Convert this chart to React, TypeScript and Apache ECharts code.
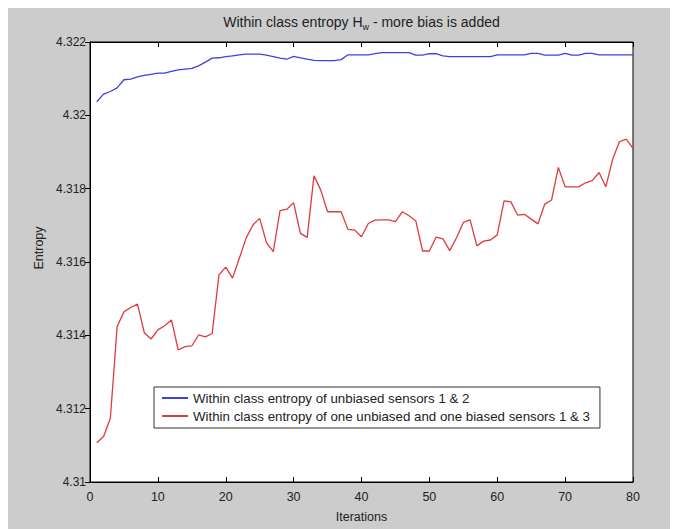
import React, { useEffect, useRef } from "react";
import * as echarts from "echarts";

const titleMain = "Within class entropy H";
const titleSub = "w";
const titleRest = " - more bias is added";
const xName = "Iterations";
const yName = "Entropy";
const seriesNames = [
  "Within class entropy of unbiased sensors 1 & 2",
  "Within class entropy of one unbiased and one biased sensors 1 & 3",
];

// iteration numbers 1..80
const iterations: number[] = [];
for (let i = 1; i <= 80; i++) iterations.push(i);

const unbiased = [
  4.32037, 4.32058, 4.32065, 4.32075, 4.32097, 4.32099, 4.32105, 4.32109, 4.32112, 4.32115,
  4.32115, 4.3212, 4.32124, 4.32126, 4.32128, 4.32135, 4.32145, 4.32156, 4.32157, 4.3216,
  4.32162, 4.32165, 4.32167, 4.32167, 4.32167, 4.32164, 4.3216, 4.32156, 4.32153, 4.32161,
  4.32157, 4.32153, 4.3215, 4.32149, 4.32149, 4.32149, 4.32152, 4.32165, 4.32165, 4.32165,
  4.32165, 4.32168, 4.32171, 4.32171, 4.32171, 4.32171, 4.32171, 4.32164, 4.32164, 4.32168,
  4.32168, 4.32162, 4.3216, 4.3216, 4.3216, 4.3216, 4.3216, 4.3216, 4.3216, 4.32165,
  4.32165, 4.32165, 4.32165, 4.32165, 4.32169, 4.32169, 4.32164, 4.32164, 4.32164, 4.32169,
  4.32164, 4.32164, 4.32169, 4.32169, 4.32165, 4.32165, 4.32165, 4.32165, 4.32165, 4.32165,
];

const biased = [
  4.31107, 4.31124, 4.31174, 4.31424, 4.31464, 4.31476, 4.31485, 4.31407, 4.3139, 4.31415,
  4.31426, 4.31442, 4.3136, 4.31369, 4.31371, 4.31401, 4.31396, 4.31405, 4.31565, 4.31586,
  4.31556, 4.3161, 4.31665, 4.31701, 4.31719, 4.31653, 4.31628, 4.3174, 4.31744, 4.31762,
  4.31678, 4.31667, 4.31835, 4.31796, 4.31737, 4.31737, 4.31737, 4.31689, 4.31687, 4.31669,
  4.31705, 4.31714, 4.31715, 4.31715, 4.3171, 4.31737, 4.31726, 4.31712, 4.3163, 4.3163,
  4.31668, 4.31663, 4.31631, 4.31666, 4.31708, 4.31715, 4.31644, 4.31657, 4.3166, 4.31674,
  4.31767, 4.31764, 4.31728, 4.3173, 4.31717, 4.31704, 4.31758, 4.31769, 4.31858, 4.31805,
  4.31805, 4.31805, 4.31816, 4.31822, 4.31844, 4.31805, 4.3188, 4.31928, 4.31935, 4.3191,
];

const yMin = 4.31;
const yMax = 4.322;
const yStep = 0.002;
const xMin = 0;
const xMax = 80;
const xStep = 10;

const FONT = "Liberation Sans, Arial, sans-serif";

export default function App() {
  const ref = useRef<HTMLDivElement>(null);
  useEffect(() => {
    if (!ref.current) return;
    const chart = echarts.init(ref.current, undefined, { renderer: "svg" });
    const axisCommon = {
      axisLine: { show: true, lineStyle: { color: "#000", width: 1 } },
      splitLine: { show: false },
    };
    chart.setOption({
      animation: false,
      backgroundColor: "#cccccc",
      textStyle: { fontFamily: FONT },
      grid: {
        left: 82,
        right: 45,
        top: 34,
        bottom: 47,
        show: true,
        backgroundColor: "#ffffff",
        borderColor: "#000",
        borderWidth: 1,
      },
      graphic: [
        {
          type: "text",
          x: 353.5,
          y: 15,
          style: {
            text: `{a|${titleMain}}{s|${titleSub}}{a|${titleRest}}`,
            align: "center",
            verticalAlign: "middle",
            rich: {
              a: { fontSize: 14, fontFamily: FONT, fill: "#222", verticalAlign: "top", lineHeight: 16 },
              s: { fontSize: 9, fontFamily: FONT, fill: "#222", verticalAlign: "bottom", padding: [11, 0, 0, 0], lineHeight: 10 },
            },
          },
        },
      ],
      legend: {
        orient: "vertical",
        left: 146,
        top: 379,
        padding: [4, 10, 5, 8],
        itemGap: 4,
        itemWidth: 26,
        itemHeight: 2,
        icon: "rect",
        backgroundColor: "#fff",
        borderColor: "#333",
        borderWidth: 1,
        borderRadius: 0,
        textStyle: { fontSize: 13.3, color: "#222", fontFamily: FONT, lineHeight: 14 },
        data: seriesNames,
      },
      xAxis: [
        {
          type: "value",
          min: xMin,
          max: xMax,
          interval: xStep,
          position: "bottom",
          name: xName,
          nameLocation: "middle",
          nameGap: 28,
          nameTextStyle: { fontSize: 12.5, color: "#222", fontFamily: FONT },
          axisTick: { show: true, inside: true, length: 5, lineStyle: { color: "#000" } },
          axisLabel: { fontSize: 12.5, color: "#222", margin: 8, fontFamily: FONT },
          ...axisCommon,
        },
        {
          type: "value",
          min: xMin,
          max: xMax,
          interval: xStep,
          position: "top",
          axisTick: { show: true, inside: true, length: 5, lineStyle: { color: "#000" } },
          axisLabel: { show: false },
          ...axisCommon,
        },
      ],
      yAxis: [
        {
          type: "value",
          min: yMin,
          max: yMax,
          interval: yStep,
          position: "left",
          name: yName,
          nameLocation: "middle",
          nameGap: 42,
          nameTextStyle: { fontSize: 12.5, color: "#222", fontFamily: FONT, padding: [0, 0, 0, 28] },
          axisTick: { show: true, inside: false, length: 4, lineStyle: { color: "#000" } },
          axisLabel: {
            fontSize: 12,
            color: "#222",
            margin: 4,
            fontFamily: FONT,
            formatter: (v: number) => String(parseFloat(v.toFixed(3))),
          },
          ...axisCommon,
        },
        {
          type: "value",
          min: yMin,
          max: yMax,
          interval: yStep,
          position: "right",
          axisTick: { show: true, inside: true, length: 5, lineStyle: { color: "#000" } },
          axisLabel: { show: false },
          ...axisCommon,
        },
      ],
      series: [
        {
          name: seriesNames[0],
          type: "line",
          symbol: "none",
          data: iterations.map((it, i) => [it, unbiased[i]]),
          lineStyle: { color: "#4040e0", width: 1.3 },
          itemStyle: { color: "#4040e0" },
        },
        {
          name: seriesNames[1],
          type: "line",
          symbol: "none",
          data: iterations.map((it, i) => [it, biased[i]]),
          lineStyle: { color: "#e03a3a", width: 1.3 },
          itemStyle: { color: "#e03a3a" },
        },
      ],
    });
    return () => chart.dispose();
  }, []);
  return <div ref={ref} style={{ width: 670, height: 521 }} />;
}
